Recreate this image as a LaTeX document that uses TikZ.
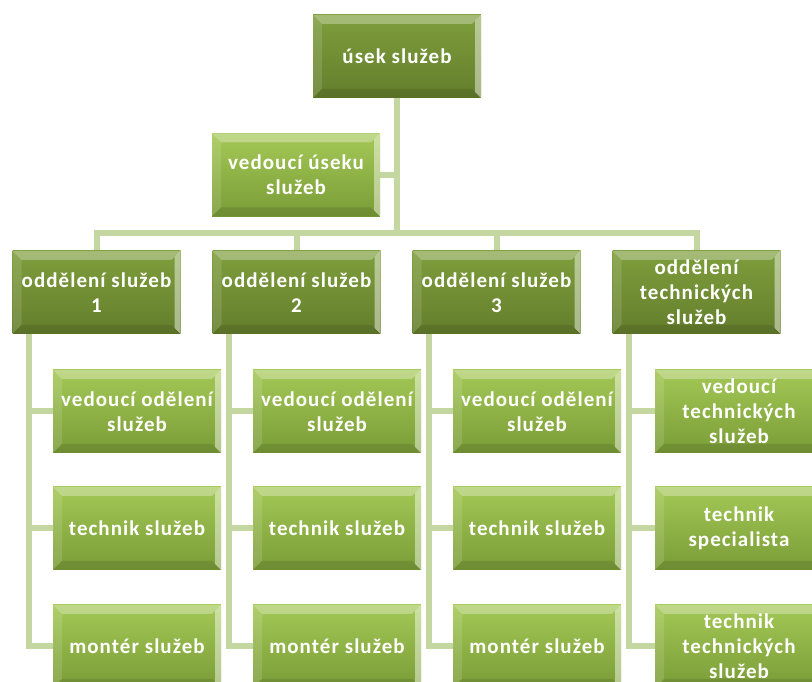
\documentclass[tikz,border=0pt]{standalone}
\usepackage{fontspec}
\setmainfont{Carlito}
\usetikzlibrary{backgrounds,calc}

\definecolor{linkgreen}{RGB}{196,215,160}
\definecolor{darktop}{RGB}{126,158,60}
\definecolor{darkbot}{RGB}{100,126,44}
\definecolor{lighttop}{RGB}{164,200,86}
\definecolor{lightbot}{RGB}{122,156,55}

\tikzset{
  box/.style={minimum width=168pt, minimum height=83pt, inner sep=0pt,
    align=center, text=white,
    font=\bfseries\fontsize{21}{25}\selectfont\addfontfeatures{LetterSpace=5},
    path picture={
      \path (path picture bounding box.south west) coordinate (bsw)
            (path picture bounding box.north east) coordinate (bne);
      \path (bsw|-bne) coordinate (bnw) (bne|-bsw) coordinate (bse);
      % bevel: lit top and left, shaded bottom, bright right rim
      \fill[white,opacity=.30] (bnw) -- (bne) -- ($(bne)+(-9,-9)$) -- ($(bnw)+(9,-9)$) -- cycle;
      \fill[white,opacity=.12] (bnw) -- ($(bnw)+(9,-9)$) -- ($(bsw)+(9,9)$) -- (bsw) -- cycle;
      \fill[black,opacity=.10] (bsw) -- ($(bsw)+(9,9)$) -- ($(bse)+(-9,9)$) -- (bse) -- cycle;
      \fill[white,opacity=.45] (bne) -- (bse) -- ($(bse)+(-6,6)$) -- ($(bne)+(-6,-6)$) -- cycle;
    }},
  darkbox/.style={box, top color=darktop, bottom color=darkbot},
  lightbox/.style={box, top color=lighttop, bottom color=lightbot},
  link/.style={draw=linkgreen, line width=6pt, line cap=rect},
}

\begin{document}
\begin{tikzpicture}[x=1pt,y=1pt]
  \useasboundingbox (0,0) rectangle (812,682);
  \clip (0,0) rectangle (812,682);

  % head of the division and its manager
  \node[darkbox] (top) at (397,625.5) {úsek služeb};
  \node[lightbox] (vus) at (296,507) {vedoucí úseku\\služeb};

  % departments
  \node[darkbox] (d1) at (96.5,389.5) {oddělení služeb\\1};
  \node[darkbox] (d2) at (296.5,389.5) {oddělení služeb\\2};
  \node[darkbox] (d3) at (496.5,389.5) {oddělení služeb\\3};
  \node[darkbox] (d4) at (696.5,389.5) {oddělení\\technických\\služeb};

  % staff of each department
  \foreach \i/\x in {1/137,2/337,3/537}{
    \node[lightbox] (c\i a) at (\x,270.5) {vedoucí odělení\\služeb};
    \node[lightbox] (c\i b) at (\x,153.5) {technik služeb};
    \node[lightbox] (c\i c) at (\x,35.5) {montér služeb};
  }
  \node[lightbox] (c4a) at (739,270.5) {vedoucí\\technických\\služeb};
  \node[lightbox] (c4b) at (739,153.5) {technik\\specialista};
  \node[lightbox] (c4c) at (739,35.5) {technik\\technických\\služeb};

  \begin{scope}[on background layer]
    \clip (0,0) rectangle (812,682);
    \coordinate (bus) at (397,449);
    \draw[link] (top.south) -- (bus);
    \draw[link] (vus.east) -- (vus.east -| top.south);
    \draw[link] (d1.north |- bus) -- (d4.north |- bus);
    \foreach \d in {d1,d2,d3,d4}{
      \draw[link] (\d.north |- bus) -- (\d.north);
    }
    \foreach \i in {1,2,3,4}{
      \coordinate (r\i) at ($(d\i.south west)+(17,0)$);
      \draw[link] (r\i) -- (r\i |- c\i c.west);
      \foreach \k in {a,b,c}{
        \draw[link] (r\i |- c\i\k.west) -- (c\i\k.west);
      }
    }
  \end{scope}
\end{tikzpicture}
\end{document}
